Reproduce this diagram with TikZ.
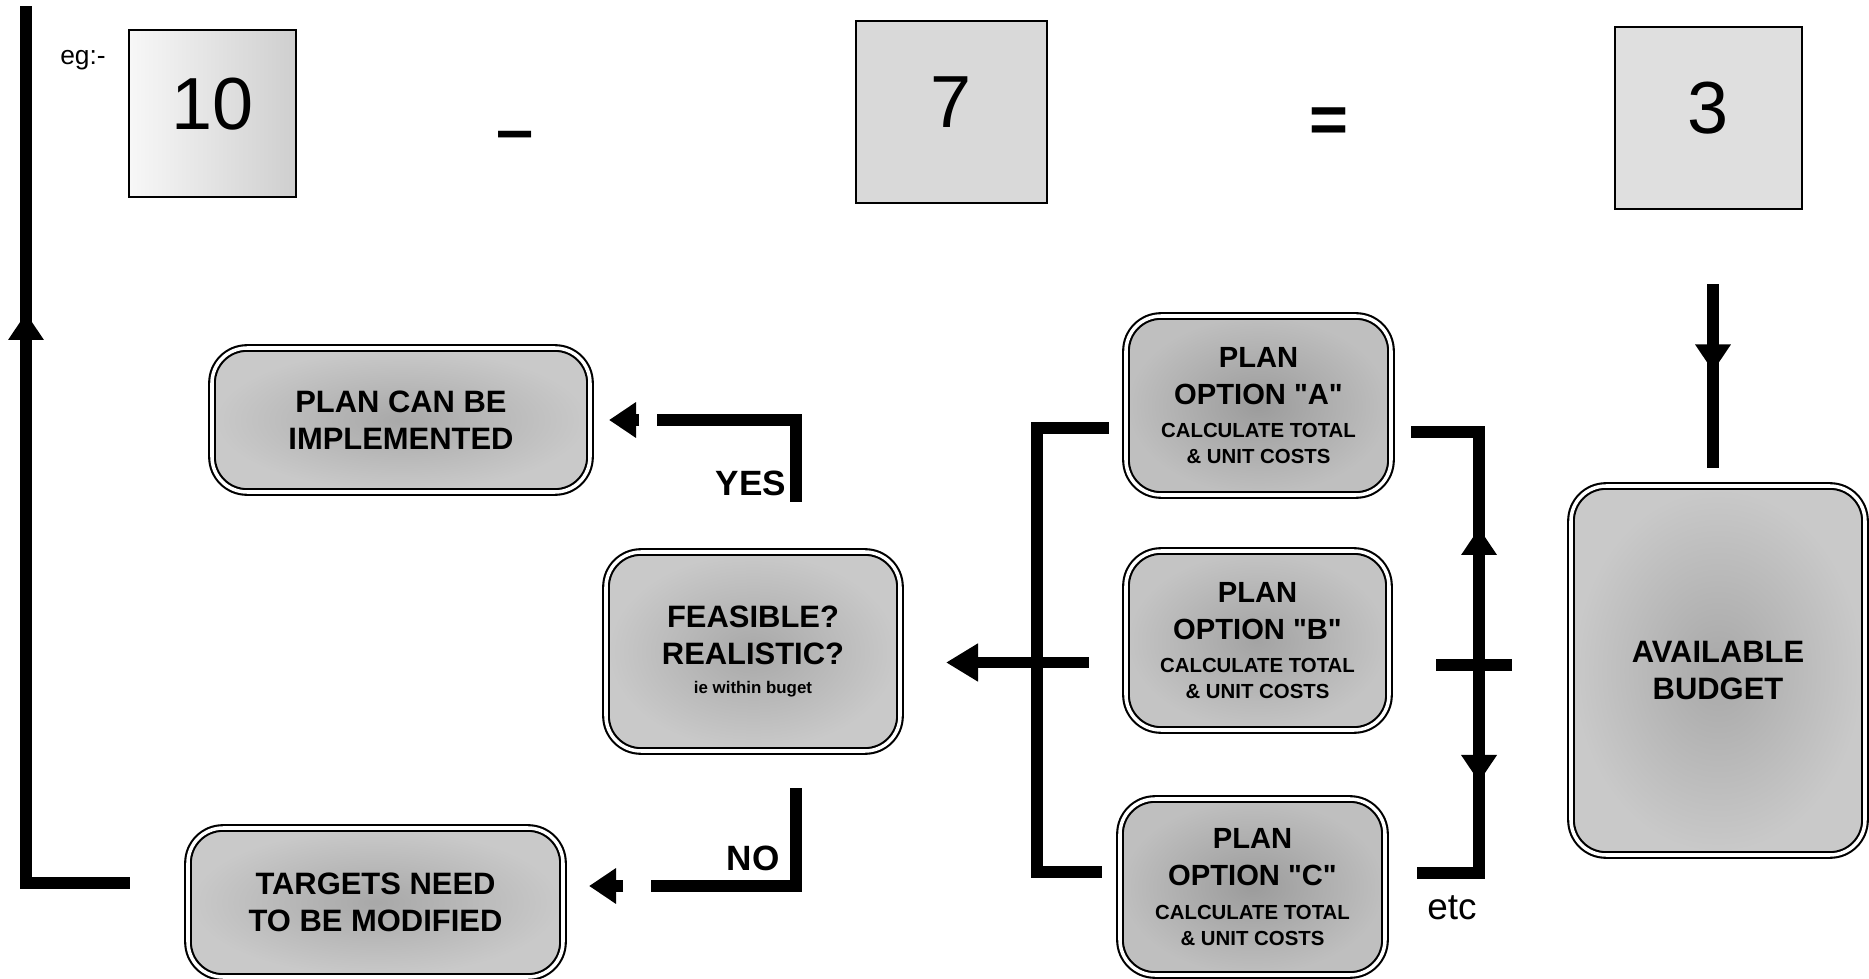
\documentclass[tikz,border=0pt]{standalone}
\usepackage{fontspec}
\setmainfont{Liberation Sans}
\usetikzlibrary{arrows.meta,calc}
\newcommand{\costfont}{\fontsize{5.8}{6.5}\selectfont}
\newcommand{\costlines}{\\[-1pt]{\costfont CALCULATE TOTAL}\\[-3.1pt]{\costfont \& UNIT COSTS}}
\newcommand{\optname}[1]{OPTION \textquotedbl#1\textquotedbl}

\begin{document}
\begin{tikzpicture}[
    line/.style={line width=3.3pt},
    tip/.style={line width=3.3pt, -{Triangle[length=0.27cm,width=0.34cm]}},
    numbox/.style={draw, line width=0.8pt, fill=gray!25, inner sep=0pt, text depth=0.2cm,
        font=\fontsize{21}{21}\selectfont},
    sign/.style={font=\bfseries\fontsize{19}{19}\selectfont},
    planbox/.style={draw, line width=0.6pt, double, double distance=1pt,
        rounded corners=0.35cm, align=center, inner sep=0pt,
        inner color=gray!68, outer color=gray!42,
        font=\bfseries\fontsize{8.8}{10.5}\selectfont},
    optionbox/.style={planbox, inner color=gray!78, outer color=gray!50,
        font=\bfseries\fontsize{8.3}{10.5}\selectfont},
    answer/.style={font=\bfseries\fontsize{10}{10}\selectfont}
]
\useasboundingbox (0,0) rectangle (18.69,-9.79);

% Sum across the top
\node[font=\fontsize{7.5}{7.5}\selectfont] (eg) at (0.83,-0.60) {eg:-};
\node[numbox, minimum width=1.67cm, minimum height=1.67cm,
    left color=gray!6, right color=gray!38] (ten) at (2.125,-1.135) {10};
\node[sign] (minus) at (5.15,-1.42) {--};
\node[numbox, minimum width=1.91cm, minimum height=1.82cm, fill=gray!30] (seven) at (9.515,-1.12) {7};
\node[sign] (equals) at (13.29,-1.25) {=};
\node[numbox, minimum width=1.87cm, minimum height=1.82cm] (three) at (17.085,-1.18) {3};

% Budget and plan options
\node[planbox, minimum width=2.94cm, minimum height=3.69cm] (budget) at (17.18,-6.705) {AVAILABLE\\BUDGET};

\node[optionbox, minimum width=2.65cm, minimum height=1.79cm] (planA) at (12.585,-4.055)
    {PLAN\\\optname{A}\costlines};
\node[optionbox, minimum width=2.63cm, minimum height=1.79cm, inner color=gray!72, outer color=gray!46] (planB) at (12.575,-6.405)
    {PLAN\\\optname{B}\costlines};
\node[optionbox, minimum width=2.65cm, minimum height=1.76cm] (planC) at (12.525,-8.87)
    {PLAN\\\optname{C}\costlines};
\node[font=\fontsize{10.5}{10.5}\selectfont] (etc) at (14.52,-9.08) {etc};

% Check against budget
\node[planbox, minimum width=2.94cm, minimum height=1.99cm] (feasible) at (7.53,-6.515)
    {FEASIBLE?\\REALISTIC?\\[-2pt]{\fontsize{4.8}{5}\selectfont ie within buget}};

\node[planbox, minimum width=3.78cm, minimum height=1.44cm] (implement) at (4.01,-4.20) {PLAN CAN BE\\IMPLEMENTED};
\node[planbox, minimum width=3.75cm, minimum height=1.49cm] (targets) at (3.755,-9.025) {TARGETS NEED\\TO BE MODIFIED};

\node[answer] (yes) at (7.51,-4.83) {YES};
\node[answer] (no) at (7.53,-8.58) {NO};

% Arrows
\draw[line] ($(three.south)+(0.045,-0.74)$) -- ++(0,-1.84);
\draw[tip] ($(three.south)+(0.045,-1.34)$) -- ++(0,-0.27);

\draw[line] ($(budget.west)+(-0.58,0.055)$) -- ++(-0.76,0);

\coordinate (rightTop) at ($(planA.east)+(0.87,-0.265)$);
\draw[line] ($(planA.east)+(0.19,-0.265)$) -- (rightTop) |- ($(planC.east)+(0.31,0.14)$);
\draw[tip] ($(rightTop)+(0,-1.22)$) -- ++(0,0.26);
\draw[tip] ($(rightTop)+(0,-3.23)$) -- ++(0,-0.27);

\draw[line] ($(planA.west)+(-0.16,-0.225)$) -- ++(-0.72,0) |- ($(planC.west)+(-0.17,0.15)$);
\draw[line, -{Triangle[length=0.32cm,width=0.36cm]}] ($(planB.west)+(-0.36,-0.22)$) -- ($(feasible.east)+(0.45,-0.11)$);

\draw[line] ($(feasible.north)+(0.43,0.49)$) |- ($(implement.east)+(0.66,0)$);
\draw[tip] ($(implement.east)+(0.48,0)$) -- ($(implement.east)+(0.18,0)$);

\draw[line] ($(feasible.south)+(0.43,-0.36)$) |- ($(targets.east)+(0.87,0.165)$);
\draw[tip] ($(targets.east)+(0.59,0.165)$) -- ($(targets.east)+(0.25,0.165)$);

\coordinate (loopTop) at (0.26,-0.06);
\draw[line] ($(targets.west)+(-0.57,0.195)$) -| (loopTop);
\draw[tip] (0.26,-3.40) -- (0.26,-3.13);

\end{tikzpicture}
\end{document}
